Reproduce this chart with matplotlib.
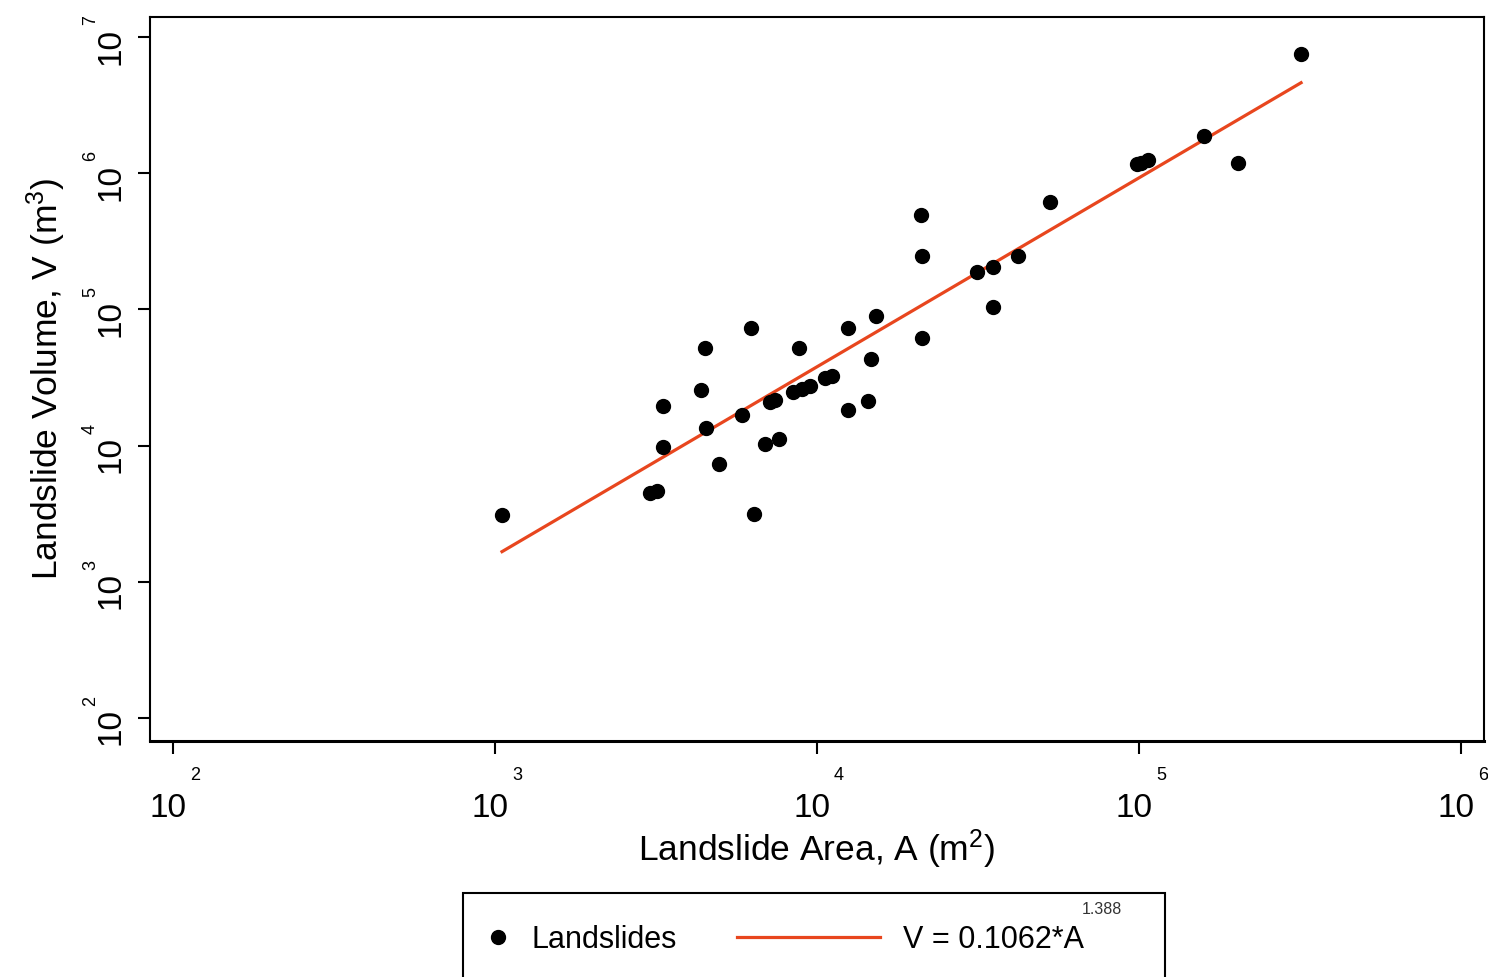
import matplotlib
matplotlib.use('Agg')
import matplotlib.pyplot as plt
from matplotlib.patches import Rectangle
from matplotlib.lines import Line2D
import numpy as np

plt.rcParams['font.family'] = ['Liberation Sans', 'DejaVu Sans']
plt.rcParams['mathtext.fontset'] = 'custom'
plt.rcParams['mathtext.rm'] = 'Liberation Sans'
plt.rcParams['mathtext.it'] = 'Liberation Sans'

fit_red = '#E8461E'

# landslide area (m2) and volume (m3)
area = [1052, 3027, 3184, 3327, 3327, 4365, 4487, 4519, 4966, 5848,
        6237, 6368, 6902, 7145, 7413, 7621, 8414, 8790, 8974, 9506,
        10590, 11140, 12470, 12470, 14390, 14720, 15240, 21040, 21180, 21180,
        31410, 35240, 35240, 42070, 52970, 98630, 101400, 106700, 159200, 202800,
        318400]
volume = [3090, 4487, 4645, 9772, 19540, 25590, 52120, 13460, 7328, 16790,
          72950, 3148, 10280, 20890, 21630, 11170, 24770, 52120, 26060, 27420,
          31330, 32430, 72950, 18240, 21230, 43250, 89540, 493200, 246600, 61660,
          188400, 204600, 104200, 246600, 615200, 1169000, 1189000, 1250000, 1875000, 1189000,
          7499000]

# power law fit V = c * A^b
coef = 0.1062
expo = 1.388

x_decades = [2, 3, 4, 5, 6]
y_decades = [2, 3, 4, 5, 6, 7]

fig = plt.figure(figsize=(14.88, 9.77), dpi=100)
ax = fig.add_axes([150/1488, 1 - 741/977, 1334/1488, 724/977])
ax.set_xscale('log')
ax.set_yscale('log')
ax.set_xlim(10**1.929, 10**6.071)
ax.set_ylim(10**1.83, 10**7.147)

ax.plot(area, volume, 'o', color='black', markersize=10, zorder=3)
A_fit = np.array([min(area), max(area)])
ax.plot(A_fit, coef * A_fit**expo, color=fit_red, lw=2.3, zorder=2)

# ticks: only the decades, labels drawn by hand (10 with raised exponent)
ax.xaxis.set_major_locator(matplotlib.ticker.FixedLocator([10.0**d for d in x_decades]))
ax.yaxis.set_major_locator(matplotlib.ticker.FixedLocator([10.0**d for d in y_decades]))
ax.xaxis.set_minor_locator(matplotlib.ticker.NullLocator())
ax.yaxis.set_minor_locator(matplotlib.ticker.NullLocator())
ax.set_xticklabels([])
ax.set_yticklabels([])
ax.tick_params(length=9, width=1.5, direction='out')

for s in ['left', 'top', 'right']:
    ax.spines[s].set_linewidth(1.5)
ax.spines['bottom'].set_linewidth(2.2)

for d in x_decades:
    ax.annotate('10', xy=(10.0**d, 0), xycoords=('data', 'axes fraction'),
                xytext=(-3.6, -54.5), textcoords='offset points',
                ha='center', va='baseline', fontsize=24, annotation_clip=False)
    ax.annotate(str(d), xy=(10.0**d, 0), xycoords=('data', 'axes fraction'),
                xytext=(15.8, -28), textcoords='offset points',
                ha='center', va='baseline', fontsize=13, annotation_clip=False)

for d in y_decades:
    ax.annotate('10', xy=(0, 10.0**d), xycoords=('axes fraction', 'data'),
                xytext=(-21.6, -6.5), textcoords='offset points', rotation=90,
                rotation_mode='anchor', ha='center', va='baseline', fontsize=24,
                annotation_clip=False)
    ax.annotate(str(d), xy=(0, 10.0**d), xycoords=('axes fraction', 'data'),
                xytext=(-39.6, 12.2), textcoords='offset points', rotation=90,
                rotation_mode='anchor', ha='center', va='baseline', fontsize=13,
                annotation_clip=False)

ax.text(0.5, (741 - 861) / 724, 'Landslide Area, A (m$^{2}$)', transform=ax.transAxes,
        ha='center', va='baseline', fontsize=25.5)
ax.text((58 - 150) / 1334, 0.5, 'Landslide Volume, V (m$^{3}$)', transform=ax.transAxes,
        rotation=90, rotation_mode='anchor', ha='center', va='baseline', fontsize=25.5)

# legend box below the axes (runs off the bottom of the figure)
W, H = 1488, 977
fig.add_artist(Rectangle((463/W, 1 - 1000/H), 702/W, 107/H, transform=fig.transFigure,
                         facecolor='white', edgecolor='black', lw=1.5))
fig.add_artist(Line2D([498/W], [1 - 937/H], marker='o', color='black', markersize=10,
                      linestyle='none', transform=fig.transFigure))
fig.text(531/W, 1 - 948/H, 'Landslides', fontsize=22, va='baseline')
fig.add_artist(Line2D([737/W, 880/W], [1 - 937/H, 1 - 937/H], color=fit_red, lw=2.3,
                      transform=fig.transFigure))
fig.text(903/W, 1 - 948/H, 'V = %s*A' % coef, fontsize=22, va='baseline')
fig.text(1082/W, 1 - 914/H, str(expo), fontsize=11.5, va='baseline', color='#333333')

fig.savefig('out.png', dpi=100)
